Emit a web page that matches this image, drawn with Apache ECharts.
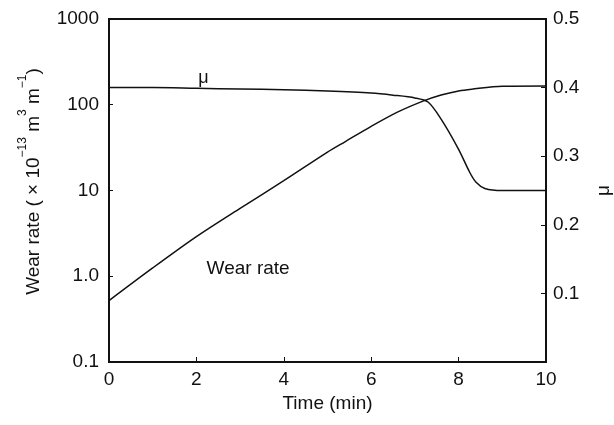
<!DOCTYPE html>
<html>
<head>
<meta charset="utf-8">
<script src="https://cdn.jsdelivr.net/npm/echarts@6/dist/echarts.min.js"></script>
<style>
  html, body { margin: 0; padding: 0; background: #fff; }
  #chart { width: 614px; height: 425px; }
</style>
</head>
<body>
<div id="chart"></div>
<script>
// wear rate (x 10^-13 m3 m-1) against time (min), log scale
const wearTime = [0, 1, 2, 3, 4, 5, 5.4, 6, 6.6, 7.2, 7.6, 8, 8.3, 9, 10]
const wearRate = [0.52, 1.25, 2.9, 6.2, 13, 28, 37, 56, 82, 111, 130, 145, 152, 164, 165]

// friction coefficient
const muTime = [0, 1, 2, 3, 4, 5, 6, 6.5, 7, 7.3, 7.6, 8, 8.25, 8.4, 8.6, 9, 10]
const muValue = [0.400, 0.400, 0.399, 0.398, 0.397, 0.395, 0.392, 0.389, 0.385, 0.379, 0.354, 0.31, 0.277, 0.262, 0.253, 0.250, 0.250]

const xTicks = [0, 2, 4, 6, 8, 10]
const wearTickLabels = ['0.1', '1.0', '10', '100', '1000']
const muTickLabels = ['', '0.1', '0.2', '0.3', '0.4', '0.5']

const font = 'Liberation Sans, Arial, sans-serif'
const ink = '#111'

const chart = echarts.init(document.getElementById('chart'))

function pairs (xs, ys, labelAt, label) {
  return xs.map((x, i) => {
    const item = { value: [x, ys[i]] }
    if (i === labelAt) item.label = label
    return item
  })
}

chart.setOption({
  animation: false,
  backgroundColor: '#fff',
  grid: {
    left: 109,
    right: 68,
    top: 19,
    bottom: 63,
    outerBoundsMode: 'none',
    show: true,
    borderColor: ink,
    borderWidth: 2
  },
  xAxis: {
    type: 'value',
    min: 0,
    max: 10,
    interval: 2,
    name: 'Time (min)',
    nameLocation: 'middle',
    nameGap: 30,
    nameTextStyle: { fontFamily: font, fontSize: 19, color: ink },
    axisLine: { show: true, lineStyle: { color: ink, width: 2 } },
    axisTick: { show: true, inside: true, length: 5, lineStyle: { color: ink } },
    axisLabel: {
      fontFamily: font, fontSize: 19, color: ink, margin: 8,
      formatter: (v) => xTicks.includes(v) ? String(v) : ''
    },
    splitLine: { show: false }
  },
  yAxis: [{
    type: 'log',
    logBase: 10,
    min: 0.1,
    max: 1000,
    position: 'left',
    name: '{n|Wear rate ( × 10}{s|−13}{n| m}{s|3}{n| m}{s|−1}{n|)}',
    nameLocation: 'middle',
    nameRotate: 90,
    nameGap: 66,
    nameTextStyle: {
      padding: [0, 0, 0, 18],
      rich: {
        n: { fontFamily: font, fontSize: 19, color: ink, verticalAlign: 'bottom', lineHeight: 26 },
        s: { fontFamily: font, fontSize: 12, color: ink, verticalAlign: 'top', lineHeight: 26 }
      }
    },
    axisLine: { show: true, lineStyle: { color: ink, width: 2 } },
    axisTick: { show: true, inside: true, length: 4, lineStyle: { color: ink } },
    axisLabel: {
      fontFamily: font, fontSize: 19, color: ink, margin: 10,
      formatter: (v, i) => wearTickLabels[i]
    },
    splitLine: { show: false }
  }, {
    type: 'value',
    min: 0,
    max: 0.5,
    interval: 0.1,
    position: 'right',
    name: 'μ',
    nameLocation: 'middle',
    nameRotate: 90,
    nameGap: 48,
    nameTextStyle: { fontFamily: font, fontSize: 19, color: ink },
    axisLine: { show: true, lineStyle: { color: ink, width: 2 } },
    axisTick: { show: true, inside: true, length: 5, lineStyle: { color: ink } },
    axisLabel: {
      fontFamily: font, fontSize: 19, color: ink, margin: 7,
      formatter: (v, i) => muTickLabels[i]
    },
    splitLine: { show: false }
  }],
  series: [{
    name: 'Wear rate',
    type: 'line',
    yAxisIndex: 0,
    smooth: 0.3,
    symbol: 'circle',
    symbolSize: 0,
    lineStyle: { color: ink, width: 1.5 },
    itemStyle: { color: ink },
    data: pairs(wearTime, wearRate, 3, {
      show: true,
      position: 'inside',
      offset: [8, 60],
      formatter: 'Wear rate',
      fontFamily: font,
      fontSize: 19,
      color: ink
    })
  }, {
    name: 'μ',
    type: 'line',
    yAxisIndex: 1,
    smooth: 0.3,
    symbol: 'circle',
    symbolSize: 0,
    lineStyle: { color: ink, width: 1.5 },
    itemStyle: { color: ink },
    data: pairs(muTime, muValue, 2, {
      show: true,
      position: 'top',
      distance: 1,
      offset: [7, 0],
      formatter: 'μ',
      fontFamily: font,
      fontSize: 18,
      color: ink
    })
  }]
})
</script>
</body>
</html>
